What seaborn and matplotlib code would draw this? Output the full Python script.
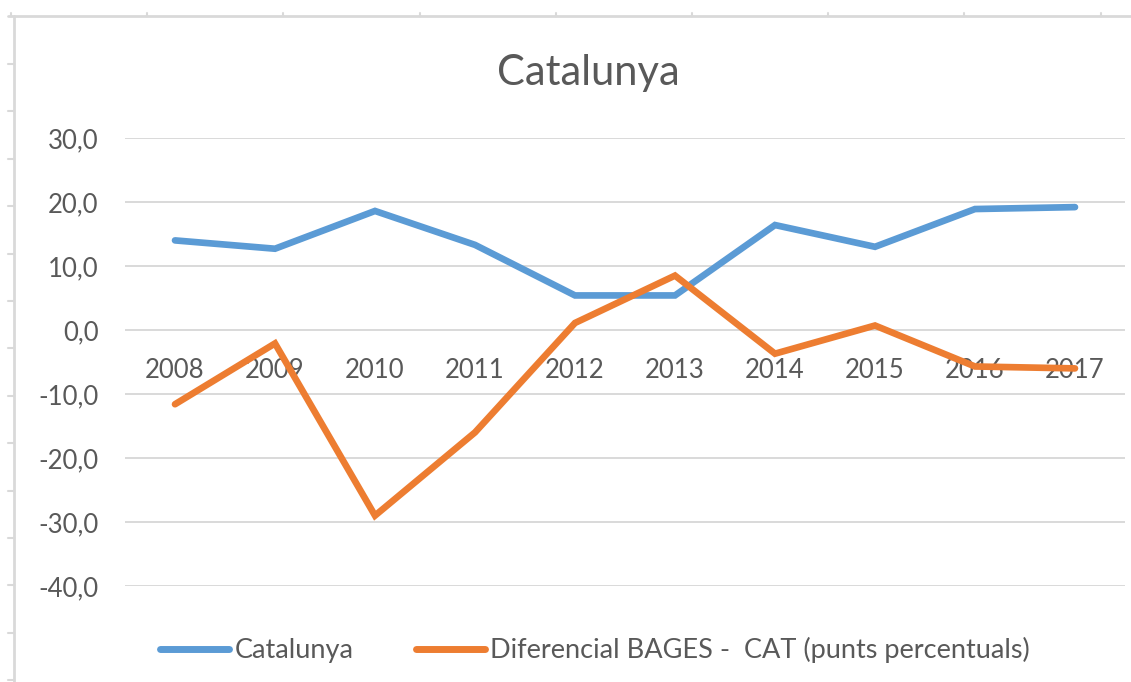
import matplotlib
matplotlib.use("Agg")
import matplotlib.pyplot as plt
from matplotlib.lines import Line2D
import seaborn as sns
import pandas as pd

years = ["2008", "2009", "2010", "2011", "2012", "2013", "2014", "2015", "2016", "2017"]
catalunya = [14.0, 12.7, 18.6, 13.3, 5.4, 5.4, 16.4, 13.0, 18.9, 19.2]
diferencial = [-11.6, -2.1, -29.0, -16.0, 1.1, 8.5, -3.7, 0.7, -5.7, -6.0]
series_names = ["Catalunya", "Diferencial BAGES -  CAT (punts percentuals)"]
y_ticks = [-40, -30, -20, -10, 0, 10, 20, 30]

df = pd.DataFrame({
    "pos": list(range(len(years))) * 2,
    "value": catalunya + diferencial,
    "serie": [series_names[0]] * len(years) + [series_names[1]] * len(years),
})

sns.set_theme(style="white")
plt.rcParams["font.family"] = ["Lato", "DejaVu Sans"]

TXT = "#595959"
GRID = "#D9D9D9"
W, H = 1131, 682
fig = plt.figure(figsize=(W / 100, H / 100), dpi=100)
ax = fig.add_axes([125 / W, 1 - 586 / H, 1000 / W, (586 - 138) / H])

sns.lineplot(data=df, x="pos", y="value", hue="serie", hue_order=series_names,
             palette=["#5B9BD5", "#ED7D31"], linewidth=4.8, ax=ax,
             legend=False, solid_capstyle="round", solid_joinstyle="miter")

ax.set_xlim(-0.5, len(years) - 0.5)
ax.set_ylim(-40, 30)
ax.set_yticks(y_ticks)
ax.set_yticklabels([f"{v:.1f}".replace(".", ",") for v in y_ticks])
ax.yaxis.grid(True, color=GRID, linewidth=1.4)
ax.set_axisbelow(True)

# category axis crosses at zero
ax.spines["bottom"].set_position(("data", 0))
for s in ["top", "right", "left", "bottom"]:
    ax.spines[s].set_visible(False)
ax.set_xticks(range(len(years)))
ax.set_xticklabels(years)
ax.tick_params(axis="x", length=0, pad=20.5, labelsize=18.5, labelcolor=TXT)
ax.tick_params(axis="y", length=0, pad=19, labelsize=18.5, labelcolor=TXT)
ax.set_xlabel("")
ax.set_ylabel("")

fig.text(588 / W, 1 - 85 / H, "Catalunya", ha="center", va="baseline",
         fontsize=30, color=TXT)

handles = [Line2D([], [], color=c, linewidth=5, solid_capstyle="round")
           for c in ["#5B9BD5", "#ED7D31"]]
fig.legend(handles, series_names, loc="center", bbox_to_anchor=(595 / W, 1 - 650 / H),
           ncol=2, frameon=False, fontsize=19.5, labelcolor=TXT,
           handlelength=2.55, handletextpad=0.2, columnspacing=2.3)

# worksheet cell borders around the chart
fig.add_artist(Line2D([8 / W, 1], [1 - 16 / H] * 2, color=GRID, linewidth=2))
fig.add_artist(Line2D([14 / W] * 2, [0, 1 - 16 / H], color=GRID, linewidth=2))
for k in range(9):
    x = (11 + 136.2 * k) / W
    fig.add_artist(Line2D([x, x], [1 - 16 / H, 1 - 13 / H], color=GRID, linewidth=1.5))
for k in range(14):
    y = 1 - (64 + 47.4 * k) / H
    fig.add_artist(Line2D([8 / W, 14 / W], [y, y], color=GRID, linewidth=1.5))

fig.savefig("out.png", dpi=100, facecolor="white")
